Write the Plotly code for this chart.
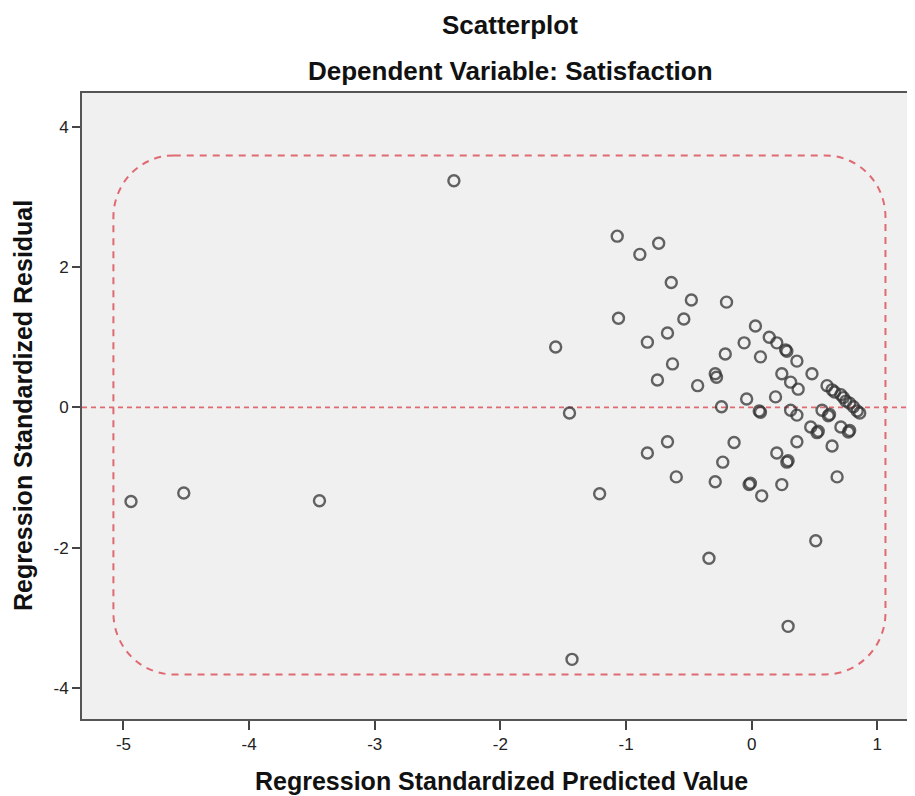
import plotly.graph_objects as go

# Regression standardized predicted values (x) and residuals (y)
pred = [
    -4.94, -4.52, -3.44, -2.37, -1.56, -1.45, -1.21, -1.43,
    -1.07, -0.89, -0.74, -0.64, -0.48, -1.06, -0.54, -0.67, -0.83, -0.63, -0.75, -0.43,
    -0.29, -0.28, -0.20, -0.21, -0.24, -0.04, 0.03, -0.06, 0.07, 0.06, 0.07,
    0.14, 0.20, 0.27, 0.28, 0.36, 0.24, 0.31, 0.37, 0.19,
    0.48, 0.60, 0.64, 0.66, 0.71, 0.73, 0.75, 0.78, 0.81, 0.86, 0.84,
    0.31, 0.36, 0.56, 0.61, 0.62, 0.47, 0.52, 0.53, 0.71, 0.77, 0.78,
    -0.83, -0.67, -0.14, -0.23, 0.20, 0.28, 0.29, 0.36, 0.64,
    -0.60, -0.29, -0.02, -0.01, 0.08, 0.24, 0.68,
    0.51, -0.34, 0.29,
]
resid = [
    -1.34, -1.22, -1.33, 3.23, 0.86, -0.08, -1.23, -3.59,
    2.44, 2.18, 2.34, 1.78, 1.53, 1.27, 1.26, 1.06, 0.93, 0.62, 0.39, 0.31,
    0.48, 0.43, 1.50, 0.76, 0.01, 0.12, 1.16, 0.92, 0.72, -0.05, -0.07,
    1.00, 0.92, 0.82, 0.80, 0.66, 0.48, 0.36, 0.26, 0.15,
    0.48, 0.31, 0.25, 0.22, 0.18, 0.14, 0.09, 0.06, 0.01, -0.08, -0.05,
    -0.04, -0.11, -0.04, -0.12, -0.10, -0.28, -0.36, -0.34, -0.28, -0.35, -0.33,
    -0.65, -0.49, -0.50, -0.78, -0.65, -0.78, -0.76, -0.49, -0.55,
    -0.99, -1.06, -1.10, -1.08, -1.26, -1.10, -0.99,
    -1.90, -2.15, -3.12,
]

title_lines = ["Scatterplot", "Dependent Variable: Satisfaction"]
x_title = "Regression Standardized Predicted Value"
y_title = "Regression Standardized Residual"
x_ticks = [-5, -4, -3, -2, -1, 0, 1]
x_ticktext = ["-5", "-4", "-3", "-2", "-1", "0", "1"]
y_ticks = [-4, -2, 0, 2, 4]
y_ticktext = ["-4", "-2", "0", "2", "4"]

FONT = "Liberation Sans, Arial, sans-serif"
RED = "#e06a72"

fig = go.Figure()
fig.add_trace(go.Scatter(
    x=pred, y=resid, mode="markers",
    marker=dict(symbol="circle-open", size=11,
                color="rgba(50,50,50,0.75)",
                line=dict(width=2.4, color="rgba(50,50,50,0.75)")),
    hoverinfo="x+y", showlegend=False,
))

# rounded dashed rectangle (data coordinates)
x0, x1, y0, y1 = -5.08, 1.065, -3.805, 3.59
rx, ry = 0.48, 0.88
k = 0.5523
path = (
    f"M {x0 + rx},{y1} L {x1 - rx},{y1} "
    f"C {x1 - rx + k*rx},{y1} {x1},{y1 - ry + k*ry} {x1},{y1 - ry} "
    f"L {x1},{y0 + ry} "
    f"C {x1},{y0 + ry - k*ry} {x1 - rx + k*rx},{y0} {x1 - rx},{y0} "
    f"L {x0 + rx},{y0} "
    f"C {x0 + rx - k*rx},{y0} {x0},{y0 + ry - k*ry} {x0},{y0 + ry} "
    f"L {x0},{y1 - ry} "
    f"C {x0},{y1 - ry + k*ry} {x0 + rx - k*rx},{y1} {x0 + rx},{y1} Z"
)
fig.add_shape(type="path", path=path, xref="x", yref="y",
              line=dict(color=RED, width=2, dash="7px,6px"), layer="below")
fig.add_shape(type="line", xref="paper", yref="y", x0=0, x1=1, y0=0, y1=0,
              line=dict(color=RED, width=1.6, dash="5px,4px"), layer="below")

title_font = dict(family=FONT, size=26, color="#111")
fig.add_annotation(text="<b>" + title_lines[0] + "</b>", xref="paper", yref="paper",
                   x=0.514, y=1, yshift=68, showarrow=False, yanchor="middle",
                   xanchor="center", font=title_font)
fig.add_annotation(text="<b>" + title_lines[1] + "</b>", xref="paper", yref="paper",
                   x=0.514, y=1, yshift=22, showarrow=False, yanchor="middle",
                   xanchor="center", font=title_font)
axis_font = dict(family=FONT, size=25, color="#111")
fig.add_annotation(text="<b>" + x_title + "</b>", xref="paper", yref="paper",
                   x=0.504, y=0, yshift=-62, showarrow=False, yanchor="middle",
                   xanchor="center", font=axis_font)
fig.add_annotation(text="<b>" + y_title + "</b>", xref="paper", yref="paper",
                   x=0, y=0.5, xshift=-59, showarrow=False, yanchor="middle",
                   xanchor="center", textangle=-90, font=axis_font)

fig.update_layout(
    width=907, height=788,
    margin=dict(l=74, r=0, t=85, b=77),
    paper_bgcolor="white", plot_bgcolor="#f0f0f0",
    font=dict(family=FONT, color="#222"),
    xaxis=dict(range=[-5.33, 1.30], tickvals=x_ticks, ticktext=x_ticktext,
               ticks="outside", ticklen=9,
               tickwidth=1.8, tickcolor="#444", showgrid=False, zeroline=False,
               showline=True, linecolor="#555", linewidth=1.8, mirror=True,
               tickfont=dict(size=17, color="#222"), automargin=False),
    yaxis=dict(range=[-4.44, 4.48], tickvals=y_ticks, ticktext=y_ticktext,
               ticks="outside", ticklen=8,
               tickwidth=1.8, tickcolor="#444", showgrid=False, zeroline=False,
               showline=True, linecolor="#555", linewidth=1.8,
               tickfont=dict(size=17, color="#222"), automargin=False),
)

fig.write_html("out.html")
